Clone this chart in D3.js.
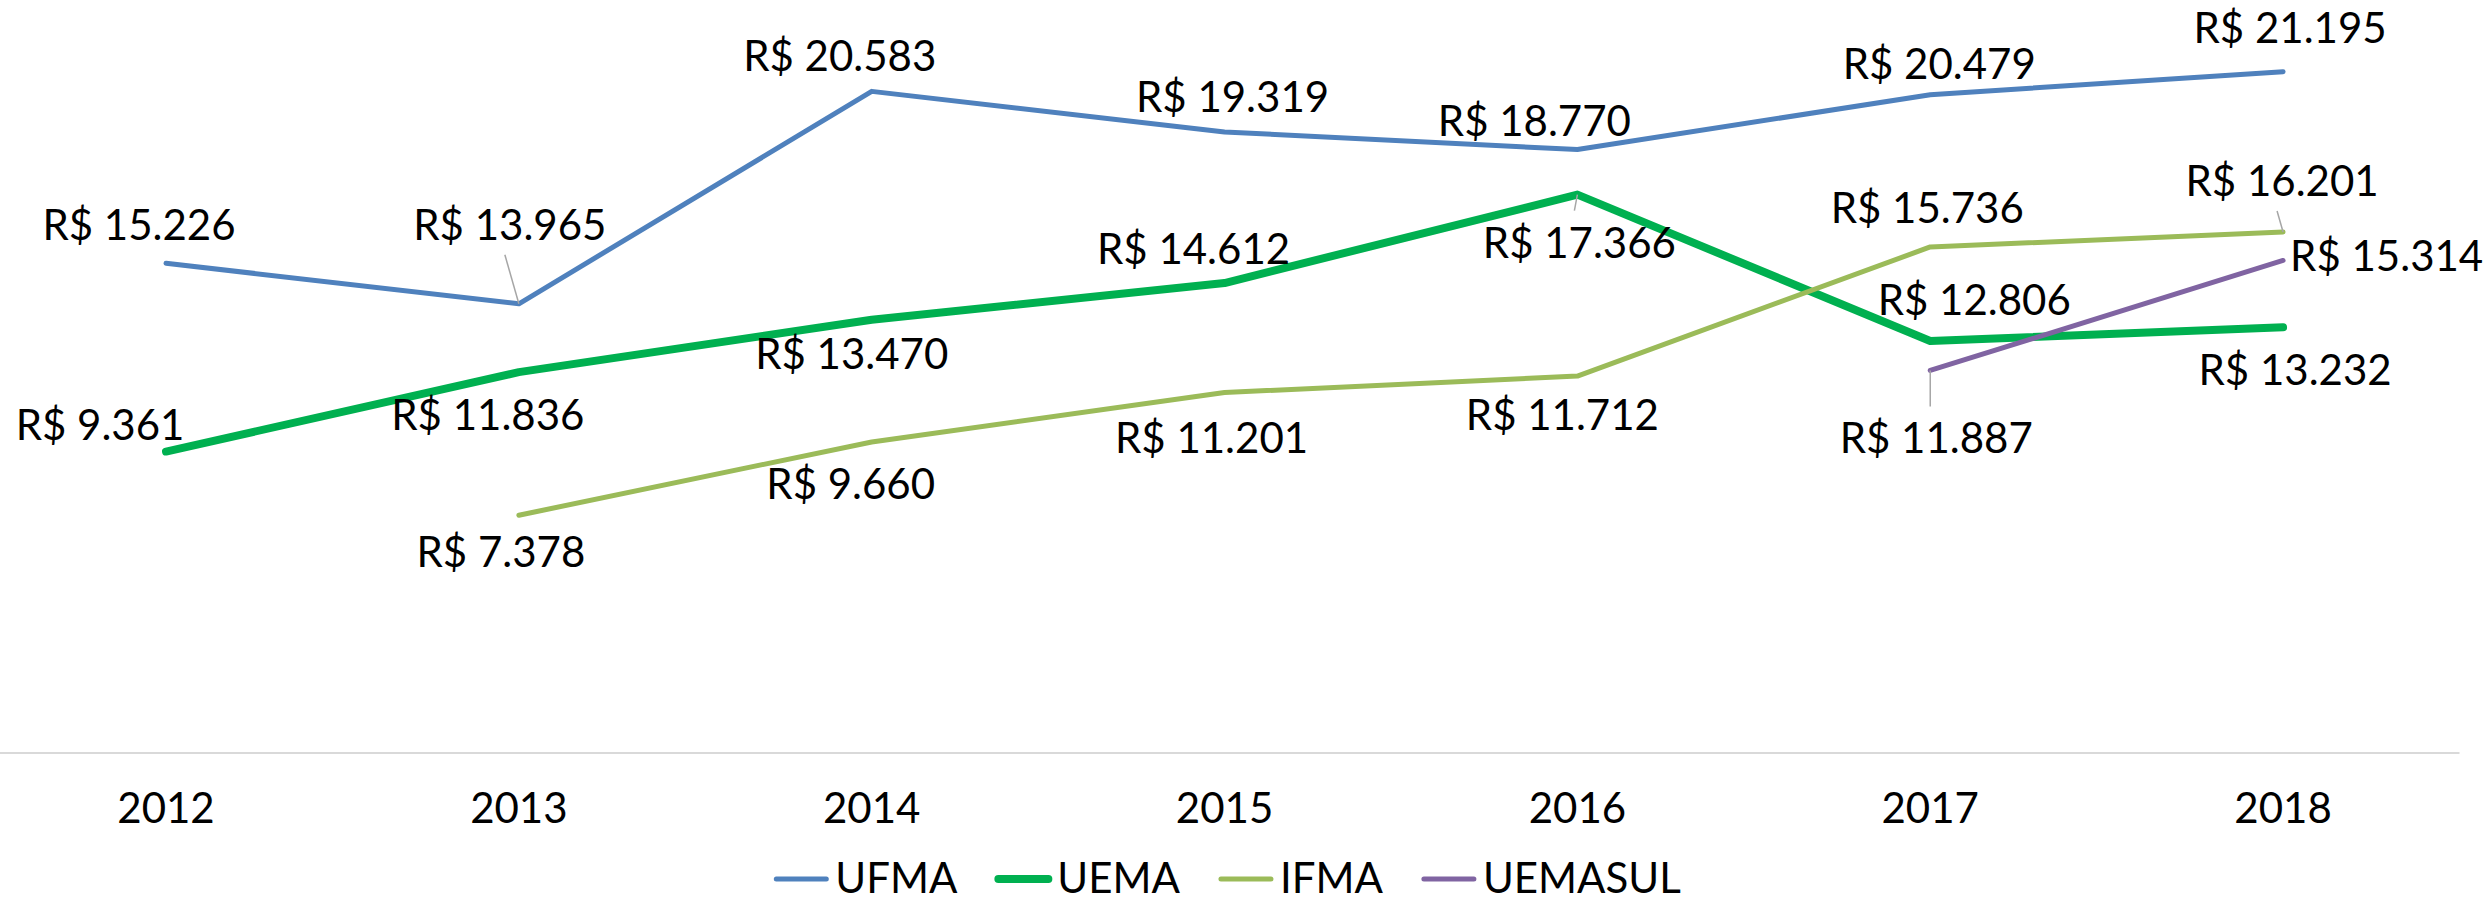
<!DOCTYPE html>
<html>
<head>
<meta charset="utf-8">
<script src="https://d3js.org/d3.v7.min.js"></script>
<style>
  body { margin: 0; background: #fff; }
  svg text { font-family: Lato, "Open Sans", sans-serif; fill: #000; }
</style>
</head>
<body>
<div id="chart"></div>
<script>
// data
var years = ["2012", "2013", "2014", "2015", "2016", "2017", "2018"];
var ufma = [15.226, 13.965, 20.583, 19.319, 18.770, 20.479, 21.195];
var uema = [9.361, 11.836, 13.470, 14.612, 17.366, 12.806, 13.232];
var ifma = [null, 7.378, 9.660, 11.201, 11.712, 15.736, 16.201];
var uemasul = [null, null, null, null, null, 11.887, 15.314];
var seriesNames = ["UFMA", "UEMA", "IFMA", "UEMASUL"];

// label placement relative to each point: [dx to text centre, dy to baseline, leader?]
var labelOffsets = {
  UFMA:    [[-27, -23], [-9, -64, 1], [-32, -20], [8, -20], [-43, -14], [9, -16], [7, -29]],
  UEMA:    [[-66, -12], [-31, 58], [-20, 49], [-31, -19], [2, 63, 1], [44, -26], [12, 58]],
  IFMA:    [null, [-18, 52], [-21, 57], [-13, 61], [-15, 54], [-3, -24], [-1, -36, 1]],
  UEMASUL: [null, null, null, null, null, [6, 83, 1], [101, 11]]
};

var styles = {
  UFMA:    { color: "#4f81bd", width: 5 },
  UEMA:    { color: "#00b050", width: 8 },
  IFMA:    { color: "#9bbb59", width: 5 },
  UEMASUL: { color: "#8064a2", width: 5 }
};

var width = 2483, height = 902;
var fontSize = 42;

var series = [ufma, uema, ifma, uemasul].map(function(vals, i) {
  return { name: seriesNames[i], values: vals.map(function(v, j) { return { year: years[j], v: v }; }) };
});

var svg = d3.select("#chart").append("svg")
    .attr("width", width)
    .attr("height", height);

var x = d3.scaleBand().domain(years).range([-10.4, 2459.5]).padding(0);
var y = d3.scaleLinear().domain([0, 23.43]).range([752, 0]);

function cx(d) { return x(d) + x.bandwidth() / 2; }

// category axis
svg.append("line")
    .attr("x1", x.range()[0]).attr("x2", x.range()[1])
    .attr("y1", y(0) + 1).attr("y2", y(0) + 1)
    .attr("stroke", "#d9d9d9")
    .attr("stroke-width", 2);

svg.append("g").selectAll("text")
    .data(years)
    .enter().append("text")
    .attr("x", cx)
    .attr("y", 823)
    .attr("text-anchor", "middle")
    .style("font-size", fontSize + "px")
    .text(function(d) { return d; });

// lines
var line = d3.line()
    .defined(function(d) { return d.v != null; })
    .x(function(d) { return cx(d.year); })
    .y(function(d) { return y(d.v); });

svg.append("g").selectAll("path")
    .data(series)
    .enter().append("path")
    .attr("fill", "none")
    .attr("stroke", function(d) { return styles[d.name].color; })
    .attr("stroke-width", function(d) { return styles[d.name].width; })
    .attr("stroke-linecap", "round")
    .attr("stroke-linejoin", "round")
    .attr("d", function(d) { return line(d.values); });

// data labels
function fmt(v) { return "R$ " + v.toFixed(3); }

var labels = [];
series.forEach(function(s) {
  s.values.forEach(function(d, j) {
    var off = labelOffsets[s.name][j];
    if (d.v == null || !off) return;
    labels.push({ name: s.name, year: d.year, v: d.v, dx: off[0], dy: off[1], leader: !!off[2] });
  });
});

var lg = svg.append("g");
labels.forEach(function(l) {
  var px = cx(l.year), py = y(l.v);
  var tx = px + l.dx, ty = py + l.dy;
  var rightSide = l.name == "UEMASUL" && l.year == "2018";
  if (l.leader) {
    var sy = l.dy < 0 ? ty + 15 : ty - 47;
    lg.append("line")
      .attr("x1", l.name == "UEMASUL" ? px : tx - 5).attr("y1", sy)
      .attr("x2", px).attr("y2", py)
      .attr("stroke", "#a6a6a6")
      .attr("stroke-width", 1.5);
  }
  lg.append("text")
    .attr("x", rightSide ? px + 7 : tx)
    .attr("y", ty)
    .attr("text-anchor", rightSide ? "start" : "middle")
    .style("font-size", fontSize + "px")
    .text(fmt(l.v));
});

// legend
var legend = svg.append("g");
var lx = 0;
seriesNames.forEach(function(name) {
  var g = legend.append("g").attr("transform", "translate(" + lx + ",0)");
  g.append("line")
    .attr("x1", 3).attr("x2", 53)
    .attr("y1", 879).attr("y2", 879)
    .attr("stroke", styles[name].color)
    .attr("stroke-width", styles[name].width)
    .attr("stroke-linecap", "round");
  var t = g.append("text")
    .attr("x", 62)
    .attr("y", 893)
    .style("font-size", fontSize + "px")
    .text(name);
  lx += 62 + t.node().getComputedTextLength() + 38;
});
var legendW = lx - 38;
legend.attr("transform", "translate(" + (1227 - legendW / 2) + ",0)");
</script>
</body>
</html>
